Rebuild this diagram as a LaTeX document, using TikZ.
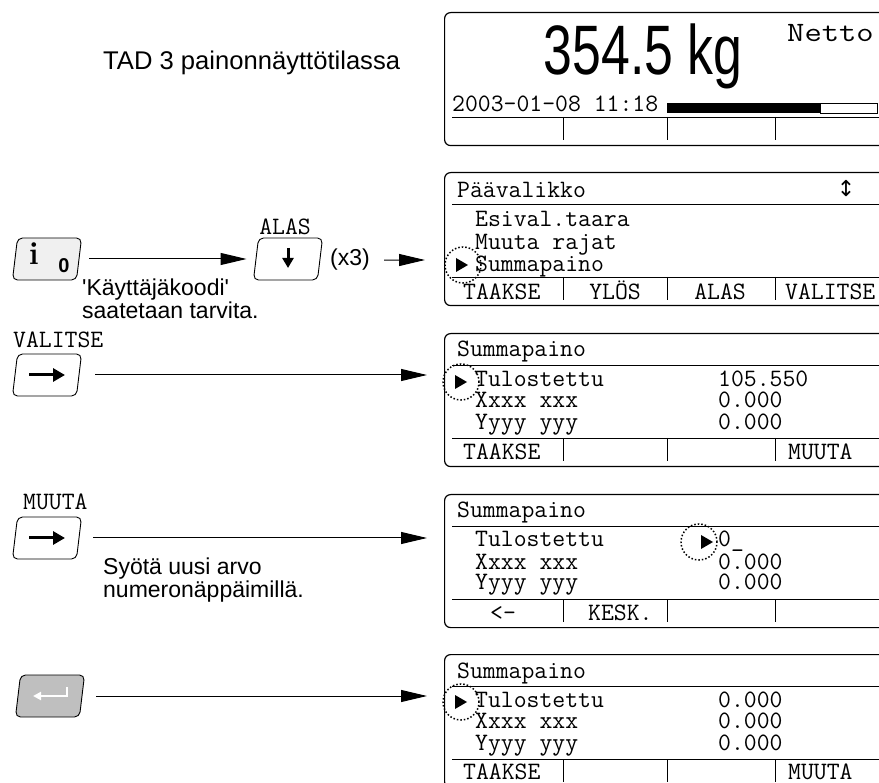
\documentclass[tikz,border=0pt]{standalone}
\usepackage{fontspec}
\usepackage{graphicx}
\usetikzlibrary{positioning, arrows.meta, calc}
\newfontfamily\arialfont{Liberation Sans}
\newfontfamily\symbfont{DejaVu Sans}
\newcommand\lcd{\ttfamily\fontsize{25}{25}\selectfont}
\newcommand\txt{\arialfont\fontsize{23}{22.5}\selectfont}

\tikzset{
  screen/.style={draw, line width=1.2pt, rounded corners=6pt, minimum width=470pt, minimum height=133pt, anchor=north west, inner sep=0pt},
  key/.style={draw, line width=0.9pt, rounded corners=5pt, minimum width=64pt, minimum height=42pt, xslant=0.12, transform shape, inner sep=0pt},
  flow/.style={-{Triangle[length=26pt,width=12pt]}, line width=1pt},
  keyarrow/.style={line width=3pt, -{Triangle[length=12pt,width=13pt]}},
  cursor/.style={draw, circle, dotted, line width=1.5pt, minimum size=36pt, inner sep=0pt},
  lcdtext/.style={font=\lcd, anchor=base west, inner sep=0pt, text height=14pt, text depth=3pt},
  note/.style={font=\txt, anchor=north west, inner sep=0pt, align=left}
}

\begin{document}
\begin{tikzpicture}[x=1pt, y=-1pt]
  \useasboundingbox (0,0) rectangle (879,783);
  \clip (0,0) rectangle (879,783);

  \node[note, anchor=base west, font=\arialfont\fontsize{25.6}{25.6}\selectfont] (title) at (103,70) {TAD 3 painonnäyttötilassa};

  \node[screen] (s1) at (444,12) {};
  \node[screen] (s2) at (444,172) {};
  \node[screen] (s3) at (444,333) {};
  \node[screen] (s4) at (444,494) {};
  \node[screen] (s5) at (444,654) {};
  \foreach \t in {12,172,333,494,654} {
    \draw[line width=0.9pt] (452,\t+105) -- (880,\t+105);
    \foreach \x in {563,667,775}
      \draw[line width=0.9pt] (\x,\t+105) -- (\x,\t+128);
  }
  \foreach \t in {172,333,494,654}
    \draw[line width=0.9pt] (452,\t+32) -- (880,\t+32);

  \node[anchor=base, inner sep=0pt, font=\arialfont\fontsize{70}{70}\selectfont] (weight) at (643,75) {\scalebox{0.74}[1]{354.5 kg}};
  \node[lcdtext, text height=17pt, font=\ttfamily\fontsize{28}{28}\selectfont] (netto) at (787,42) {\scalebox{1.2}[1]{Netto}};
  \node[lcdtext] (date) at (452,112) {2003-01-08 11:18};
  \fill (667,103) rectangle (820,113);
  \draw[line width=0.8pt] (820,103) rectangle (877,113);

  \node[lcdtext] (menu) at (457,198) {Päävalikko};
  \node[inner sep=0pt, font=\symbfont\fontsize{22}{22}\selectfont] (updown) at (846,189) {↕};
  \node[lcdtext] (m1) at (475,227) {Esival.taara};
  \node[lcdtext] (m2) at (475,250) {Muuta rajat};
  \node[lcdtext] (m3) at (475,272) {Summapaino};
  \node[lcdtext] (sk21) at (463,300) {TAAKSE};
  \node[lcdtext, anchor=base] (sk22) at (615,300) {YLÖS};
  \node[lcdtext, anchor=base] (sk23) at (720,300) {ALAS};
  \node[lcdtext] (sk24) at (785,300) {VALITSE};
  \node[cursor] (c2) at (463,265) {};
  \fill ($(c2)+(-7,-7)$) -- ++(12,7) -- ++(-12,7) -- cycle;

  \node[lcdtext] (h3) at (457,357) {Summapaino};
  \node[lcdtext] (r31) at (475,387) {Tulostettu};
  \node[lcdtext] (v31) at (718,387) {105.550};
  \node[lcdtext] (r32) at (475,408) {Xxxx xxx};
  \node[lcdtext] (v32) at (718,408) {0.000};
  \node[lcdtext] (r33) at (475,430) {Yyyy yyy};
  \node[lcdtext] (v33) at (718,430) {0.000};
  \node[lcdtext] (sk31) at (463,460) {TAAKSE};
  \node[lcdtext] (sk34) at (788,460) {MUUTA};
  \node[cursor] (c3) at (461,382) {};
  \fill ($(c3)+(-6,-7)$) -- ++(12,7) -- ++(-12,7) -- cycle;

  \node[lcdtext] (h4) at (457,518) {Summapaino};
  \node[lcdtext] (r41) at (475,547) {Tulostettu};
  \node[lcdtext] (v41) at (718,547) {0\_};
  \node[lcdtext] (r42) at (475,569) {Xxxx xxx};
  \node[lcdtext] (v42) at (718,569) {0.000};
  \node[lcdtext] (r43) at (475,590) {Yyyy yyy};
  \node[lcdtext] (v43) at (718,590) {0.000};
  \node[lcdtext, anchor=base] (sk41) at (503,620) {<-};
  \node[lcdtext] (sk42) at (588,620) {KESK.};
  \node[cursor] (c4) at (699,542) {};
  \fill ($(c4)+(2,-7)$) -- ++(12,7) -- ++(-12,7) -- cycle;

  \node[lcdtext] (h5) at (457,678) {Summapaino};
  \node[lcdtext] (r51) at (475,707) {Tulostettu};
  \node[lcdtext] (v51) at (718,707) {0.000};
  \node[lcdtext] (r52) at (475,728) {Xxxx xxx};
  \node[lcdtext] (v52) at (718,728) {0.000};
  \node[lcdtext] (r53) at (475,750) {Yyyy yyy};
  \node[lcdtext] (v53) at (718,750) {0.000};
  \node[lcdtext] (sk51) at (463,779) {TAAKSE};
  \node[lcdtext] (sk54) at (788,779) {MUUTA};
  \node[cursor] (c5) at (461,702) {};
  \fill ($(c5)+(-6,-7)$) -- ++(12,7) -- ++(-12,7) -- cycle;

  \node[key, fill=gray!12] (kInfo) at (47,259) {};
  \node[inner sep=0pt, font=\bfseries\fontsize{32}{32}\selectfont] (iLetter) at (34,254) {i};
  \node[inner sep=0pt, font=\arialfont\bfseries\fontsize{20}{20}\selectfont] (iZero) at (64,266) {0};
  \node[note] (code) at (82,279) {'Käyttäjäkoodi'\\saatetaan tarvita.};

  \node[key, fill=white] (kDown) at (288,259) {};
  \node[lcdtext, anchor=base] (lDown) at (285,235) {ALAS};
  \draw[keyarrow, -{Triangle[length=10pt,width=11pt]}] ($(kDown)+(0,-11)$) -- ($(kDown)+(0,9)$);
  \node[note, anchor=base west] (times) at (330,266) {(x3)};
  \coordinate (e2) at (425,260);
  \draw[flow, shorten <=10pt, shorten >=9pt] (kInfo) -- (kDown);
  \draw[flow, shorten <=14pt] (times) -- (e2);

  \node[key, fill=white] (kSel) at (47,375) {};
  \node[lcdtext] (lSel) at (13,348) {VALITSE};
  \draw[keyarrow] ($(kSel)+(-18,0)$) -- ($(kSel)+(18,0)$);
  \coordinate (e3) at (427,375);
  \draw[flow, shorten <=16pt] (kSel) -- (e3);

  \node[key, fill=white] (kMod) at (47,538) {};
  \node[lcdtext] (lMod) at (23,510) {MUUTA};
  \draw[keyarrow] ($(kMod)+(-18,0)$) -- ($(kMod)+(18,0)$);
  \coordinate (e4) at (427,538);
  \draw[flow, shorten <=14pt] (kMod) -- (e4);
  \node[note] (hint) at (103,558) {Syötä uusi arvo\\numeronäppäimillä.};

  \node[key, fill=black!25] (kEnt) at (50,696) {};
  \draw[white, line width=2pt, -{Triangle[length=8pt,width=8pt]}] ($(kEnt)+(17,-9)$) -- ++(0,9) -- ++(-34,0);
  \coordinate (e5) at (427,696);
  \draw[flow, shorten <=14pt] (kEnt) -- (e5);
\end{tikzpicture}
\end{document}
